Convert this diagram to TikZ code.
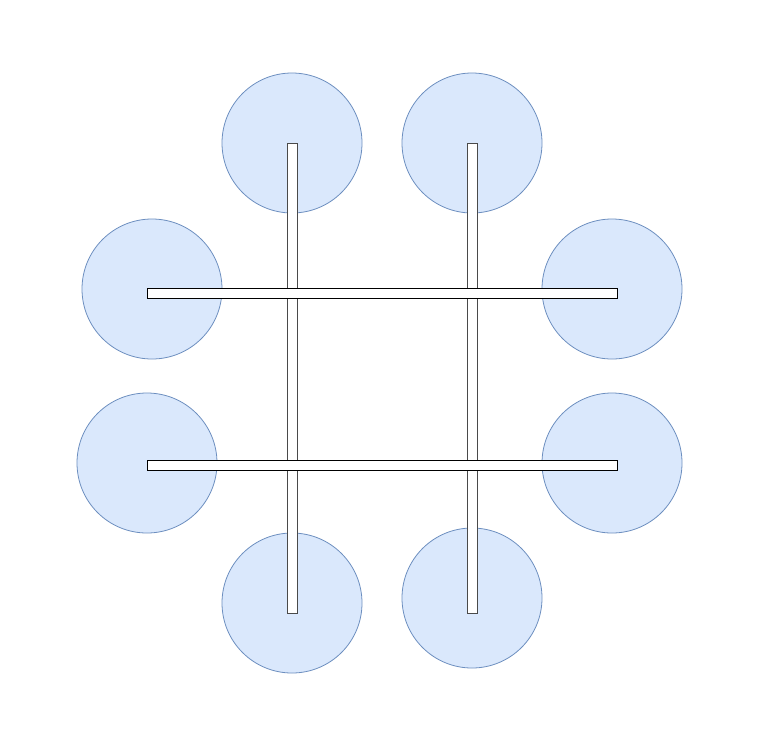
\documentclass[tikz,border=0pt]{standalone}
\usepackage{xcolor}
\usepackage{tikz}
\usetikzlibrary{positioning}
\definecolor{padfill}{HTML}{DAE8FC}
\definecolor{padline}{HTML}{6C8EBF}
\definecolor{railgray}{HTML}{4A4A4A}
\tikzset{
  pad/.style={circle,draw=padline,fill=padfill,line width=0.8pt,
    minimum size=140pt,inner sep=0pt},
  vrail/.style={rectangle,draw=railgray,fill=white,line width=0.9pt,
    minimum width=10pt,minimum height=470pt,inner sep=0pt},
  hrail/.style={rectangle,draw=black,fill=white,line width=0.9pt,
    minimum width=470pt,minimum height=10pt,inner sep=0pt}
}
\begin{document}
\begin{tikzpicture}[x=1pt,y=-1pt]
  \useasboundingbox (0,0) rectangle (767,731);
  % pads round the frame
  \node[pad] (padTL) at (292,143) {};
  \node[pad] (padTR) at (472,143) {};
  \node[pad] (padLU) at (152,289) {};
  \node[pad] (padRU) at (612,289) {};
  \node[pad] (padLL) at (147,463) {};
  \node[pad] (padRL) at (612,463) {};
  \node[pad] (padBL) at (292,603) {};
  \node[pad] (padBR) at (472,598) {};
  % rails
  \node[vrail] (railL) at (292,378) {};
  \node[vrail] (railR) at (472,378) {};
  \node[hrail] (railU) at (382,293) {};
  \node[hrail] (railD) at (382,465) {};
\end{tikzpicture}
\end{document}
